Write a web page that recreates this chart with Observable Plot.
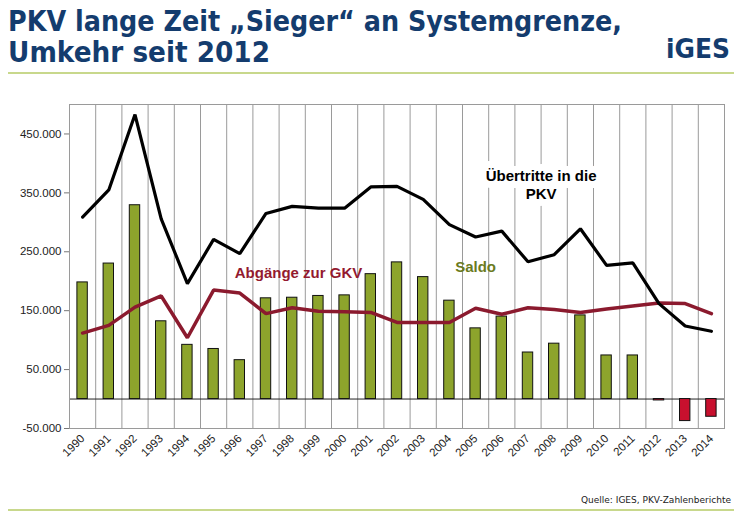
<!DOCTYPE html>
<html><head><meta charset="utf-8">
<script src="https://cdn.jsdelivr.net/npm/d3@7"></script>
<script src="https://cdn.jsdelivr.net/npm/@observablehq/plot@0.6"></script>
<style>
body{margin:0;background:#fff}
#wrap{position:relative;width:734px;height:511px;overflow:hidden;background:#fff}
#wrap svg{position:absolute;left:0;top:0}
</style></head>
<body><div id="wrap"></div>
<script>
const years = [1990,1991,1992,1993,1994,1995,1996,1997,1998,1999,2000,2001,2002,2003,2004,2005,2006,2007,2008,2009,2010,2011,2012,2013,2014];
const saldo = [198000,230000,329000,132000,92000,85000,66000,171000,172000,175000,176000,212000,232000,207000,167000,120000,140000,79000,94000,142000,74000,74000,-2400,-37400,-30100];
const uebertritte = [309000,355000,483000,306000,196000,271000,247000,315000,327000,324000,324000,360000,361000,339000,296000,275000,285000,233000,245000,289000,227000,231000,162000,124000,115000];
const abgaenge = [112000,125000,156000,175000,104000,185000,180000,145000,155000,149000,148000,147000,130000,130000,130000,154000,144000,155000,152000,147000,153000,158000,163000,162000,145000];
const yTicks = [-50000,50000,150000,250000,350000,450000];
const seriesLabels = [
  {text:"Abgänge zur GKV", x:1998.24, y:214700, color:"#931a2f"},
  {text:"Saldo", x:2005.0, y:224900, color:"#6b7b1e"},
  {text:"Übertritte in die\nPKV", x:2007.5, y:365000, color:"#000"}
];
const titleLines = ["PKV lange Zeit „Sieger“ an Systemgrenze,", "Umkehr seit 2012"];
const logoText = "iGES";
const caption = "Quelle: IGES, PKV-Zahlenberichte";

const data = years.map((year,i)=>({year, saldo:saldo[i], uebertritte:uebertritte[i], abgaenge:abgaenge[i]}));
const fmt = d => d3.format(",")(d).replace(/,/g,".").replace("−","-");
const font = "Liberation Sans, Arial, sans-serif";

const chart = Plot.plot({
  width:734, height:511,
  marginLeft:69, marginRight:10, marginTop:104, marginBottom:83,
  style:{fontFamily:font, background:"transparent", overflow:"visible"},
  x:{type:"linear", domain:[1989.5,2014.5], axis:null},
  y:{domain:[-50000,500000], axis:null},
  marks:[
    Plot.ruleX(years.slice(1), {x:d=>d-0.5, stroke:"#9a9a9a", strokeWidth:1}),
    Plot.ruleY([0], {stroke:"#222", strokeWidth:1}),
    Plot.rectY(data, {x1:d=>d.year-0.5, x2:d=>d.year+0.5, y1:0, y2:"saldo", insetLeft:7.9, insetRight:7.9,
      fill:d=>d.saldo<0?"#c8102e":"#8da42c", stroke:"#111", strokeWidth:1}),
    Plot.line(data, {x:"year", y:"abgaenge", stroke:"#8b1a2e", strokeWidth:3.5, strokeLinejoin:"miter"}),
    Plot.line(data, {x:"year", y:"uebertritte", stroke:"#000", strokeWidth:3.2, strokeLinejoin:"miter"}),
    Plot.text(seriesLabels, {x:"x", y:"y", text:"text", fill:"color", fontSize:15, fontWeight:"bold", lineHeight:1.2,
      stroke:d=>d.text.startsWith("Ü")?"white":"none", strokeWidth:14}),
    Plot.frame({stroke:"#9a9a9a", strokeWidth:1}),
    Plot.axisY(yTicks, {anchor:"left", tickFormat:fmt, tickSize:5, tickPadding:3, fontSize:11.5, fill:"#222", stroke:"#777", label:null}),
    Plot.axisX(years, {anchor:"bottom", tickFormat:d=>String(d), tickRotate:-45, tickSize:0, tickPadding:8, fontSize:11.5, fill:"#222", label:null})
  ]
});
const wrap = document.getElementById("wrap");
wrap.appendChild(chart);

// header / footer overlay
const ov = d3.select(wrap).append("svg").attr("width",734).attr("height",511).style("pointer-events","none");
ov.append("text").attr("x",8).attr("y",31).attr("font-family","DejaVu Sans, Verdana, sans-serif").attr("font-weight","bold")
  .attr("font-size",28).attr("fill","#143c6e").attr("textLength",614).attr("lengthAdjust","spacingAndGlyphs").text(titleLines[0]);
ov.append("text").attr("x",8).attr("y",62).attr("font-family","DejaVu Sans, Verdana, sans-serif").attr("font-weight","bold")
  .attr("font-size",28).attr("fill","#143c6e").attr("textLength",262).attr("lengthAdjust","spacingAndGlyphs").text(titleLines[1]);
ov.append("text").attr("x",666).attr("y",58).attr("font-family","DejaVu Sans, Verdana, sans-serif").attr("font-weight","bold")
  .attr("font-size",27).attr("fill","#143c6e").attr("textLength",64).attr("lengthAdjust","spacingAndGlyphs").text(logoText);
ov.append("line").attr("x1",8).attr("x2",734).attr("y1",73).attr("y2",73).attr("stroke","#c8d88c").attr("stroke-width",2);
ov.append("line").attr("x1",8).attr("x2",734).attr("y1",510).attr("y2",510).attr("stroke","#c8d88c").attr("stroke-width",2);
ov.append("text").attr("x",731).attr("y",503).attr("text-anchor","end").attr("font-family","DejaVu Sans, Verdana, sans-serif")
  .attr("font-size",9).attr("fill","#222").text(caption);
</script></body></html>
